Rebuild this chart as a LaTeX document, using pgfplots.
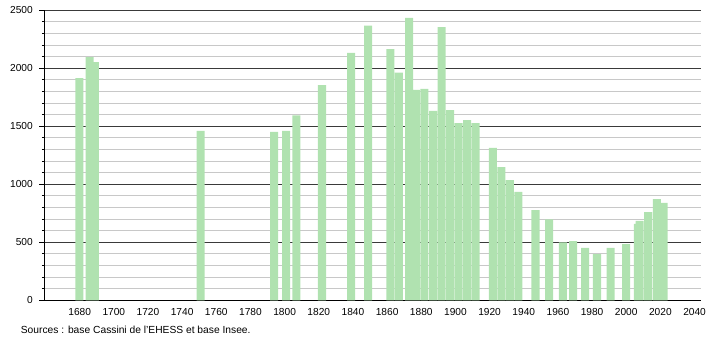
\documentclass[border=0pt]{standalone}
\usepackage{fontspec}
\setmainfont{Liberation Sans}
\usepackage{pgfplots}
\pgfplotsset{compat=1.18}
\definecolor{barg}{HTML}{B0E2B0}
\definecolor{majg}{HTML}{3A3A3A}
\definecolor{ming}{HTML}{C8C8C8}
\begin{document}
\begin{tikzpicture}
\useasboundingbox (-44.3bp,-39.7bp) rectangle (665.7bp,300.3bp);
\begin{axis}[
  scale only axis,
  width=656.4bp, height=290bp,
  xmin=1659.3, xmax=2043.6,
  ymin=0, ymax=2500,
  axis x line=bottom, axis y line=left,
  axis line style={-, black, line width=0.9bp},
  xtick={1680,1700,...,2040},
  xtick style={draw=none},
  ytick={0,500,...,2500},
  minor y tick num=4,
  tick align=outside,
  major tick length=5bp, minor tick length=2.5bp,
  ytick style={black, line width=0.8bp},
  ymajorgrids, yminorgrids,
  major grid style={majg, line width=0.9bp},
  minor grid style={ming, line width=0.9bp},
  /pgf/number format/assume math mode=true,
  /pgf/number format/1000 sep={},
  tick label style={font=\fontsize{10.2}{12}\selectfont},
  yticklabel style={xshift=-3bp},
  ybar, bar width=4.7, bar shift=1.5bp,
]
\addplot[fill=barg, draw=none] coordinates {
(1679,1916) (1685,2097) (1688,2054) (1750,1460)
(1793,1451) (1800,1460) (1806,1595) (1821,1856)
(1838,2134) (1848,2367) (1861,2166) (1866,1962)
(1872,2434) (1876,1813) (1881,1822) (1886,1632)
(1891,2356) (1896,1640) (1901,1528) (1906,1554)
(1911,1528) (1921,1313) (1926,1149) (1931,1037)
(1936,934) (1946,778) (1954,698) (1962,500)
(1968,511) (1975,451) (1982,399) (1990,451)
(1999,485) (2006,658) (2007,684) (2012,761)
(2017,873) (2021,839)
};
\end{axis}
\node[anchor=west, inner sep=0pt, font=\fontsize{10.3}{12}\selectfont] at (-23.6bp,-29.3bp) {Sources : base Cassini de l'EHESS et base Insee.};
\end{tikzpicture}
\end{document}
